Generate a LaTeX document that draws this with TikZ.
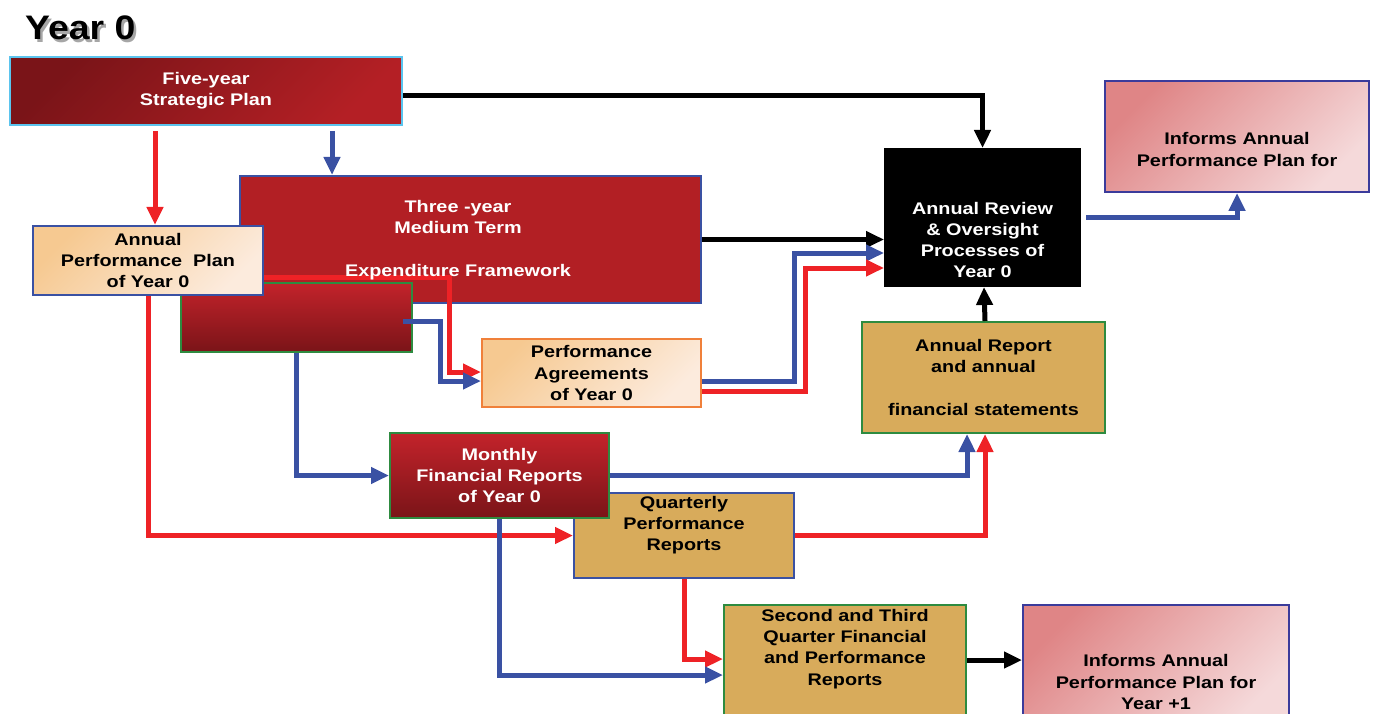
\documentclass[tikz,border=0pt]{standalone}
\usepackage{fontspec}
\setsansfont{Liberation Sans}[FakeStretch=1.18]
\newfontfamily\titlefont{Liberation Sans}[FakeStretch=1.1]
\usetikzlibrary{arrows.meta}

\definecolor{darkred}{HTML}{7A1418}
\definecolor{midred}{HTML}{B21F24}
\definecolor{litered}{HTML}{C3232B}
\definecolor{peachdark}{HTML}{F6C991}
\definecolor{peachlite}{HTML}{FCEBDD}
\definecolor{pinkdark}{HTML}{DF8586}
\definecolor{pinklite}{HTML}{F5D9DA}
\definecolor{tan}{HTML}{D8AB5B}
\definecolor{edgeblue}{HTML}{3A51A3}
\definecolor{edgeviolet}{HTML}{3B3B9B}
\definecolor{edgegreen}{HTML}{2E8B40}
\definecolor{edgeorange}{HTML}{F0803A}
\definecolor{edgecyan}{HTML}{5BC4EE}
\definecolor{linered}{HTML}{EE2226}
\definecolor{lineblue}{HTML}{3A51A3}

\tikzset{
  boxfont/.style={font=\sffamily\bfseries\fontsize{16.8}{21.3}\selectfont},
  box/.style={rectangle, draw, line width=2pt, inner sep=0pt, align=center, boxfont},
  redbox/.style={box, text=white, top color=litered, bottom color=darkred},
  peachbox/.style={box, top color=peachdark, bottom color=peachlite, shading angle=45},
  pinkbox/.style={box, draw=edgeviolet, top color=pinkdark, bottom color=pinklite, shading angle=45},
  tanbox/.style={box, fill=tan},
  whitetext/.style={align=center, inner sep=0pt, text=white, boxfont},
  blacktext/.style={align=center, inner sep=0pt, text=black, boxfont},
  flow/.style={line width=5pt, -{Triangle[length=18pt,width=16pt]}},
  redflow/.style={flow, draw=linered, -{Triangle[length=18pt,width=16pt,fill=linered]}},
  blueflow/.style={flow, draw=lineblue, -{Triangle[length=18pt,width=16pt,fill=lineblue]}},
  blackflow/.style={flow, draw=black}
}

\begin{document}
\begin{tikzpicture}[x=1pt,y=-1pt]
	\clip (0,0) rectangle (1376,714);
	\useasboundingbox (0,0) rectangle (1376,714);

	% title
	\node (titleshadow) [anchor=base west, inner sep=0pt, text=black!35] at (27.5,42.5) {\titlefont\bfseries\fontsize{34}{34}\selectfont Year 0};
	\node (title) [anchor=base west, inner sep=0pt] at (25,40) {\titlefont\bfseries\fontsize{34}{34}\selectfont Year 0};

	% boxes
	\node (fiveyear) [box, draw=edgecyan, text=white, top color=darkred, bottom color=midred!90!litered, shading angle=45,
		minimum width=392, minimum height=68] at (206,91) {Five-year\\Strategic Plan};
	\node (mtef) [box, draw=edgeblue, fill=midred, minimum width=461, minimum height=127] at (470.5,239.5) {};
	\node (budget) [redbox, draw=edgegreen, minimum width=231, minimum height=69] at (296.5,317.5) {};
	\node (app) [peachbox, draw=edgeblue, minimum width=230, minimum height=69] at (148,260.5) {Annual\\Performance~ Plan\\of Year 0};
	\node (perfagr) [peachbox, draw=edgeorange, minimum width=219, minimum height=68] at (591.5,373) {Performance\\Agreements\\of Year 0};
	\node (quarterly) [tanbox, draw=edgeblue, minimum width=220, minimum height=85] at (684,535.5) {};
	\node (quartertext) [blacktext] at (684,525) {Quarterly\\Performance\\Reports};
	\node (monthly) [redbox, draw=edgegreen, minimum width=219, minimum height=85] at (499.5,475.5) {Monthly\\Financial Reports\\of Year 0};
	\node (secondthird) [tanbox, draw=edgegreen, minimum width=242, minimum height=120] at (845,665) {};
	\node (secondtext) [blacktext] at (845,649) {Second and Third\\Quarter Financial\\and Performance\\Reports};
	\node (informsnext) [pinkbox, minimum width=266, minimum height=120] at (1156,665) {};
	\node (nexttext) [blacktext] at (1156,682) {Informs Annual\\Performance Plan for\\Year +1};
	\node (review) [box, fill=black, draw=black, minimum width=195, minimum height=137] at (982.5,217.5) {};
	\node (reviewtext) [whitetext] at (982.5,240) {Annual Review\\\& Oversight\\Processes of\\Year 0};
	\node (informs) [pinkbox, minimum width=264, minimum height=111] at (1237,136.5) {};
	\node (informstext) [blacktext] at (1237,149.5) {Informs Annual\\Performance Plan for};
	\node (annrep) [tanbox, draw=edgegreen, minimum width=243, minimum height=111] at (983.5,377.5) {Annual Report\\and annual\\[21.3pt]financial statements};

	% connectors
	\draw [blackflow] ([yshift=-5pt]fiveyear.east) -| (review.north);
	\draw [redflow, shorten >=5pt] ([xshift=-51pt,yshift=-5pt]fiveyear.south) -- ([xshift=-51pt,yshift=-5pt]fiveyear.south |- app.north);
	\draw [blueflow] ([xshift=126pt,yshift=-5pt]fiveyear.south) -- ([xshift=126pt]fiveyear.south |- mtef.north);
	\draw [blackflow] (mtef.east) -- (mtef.east -| review.west);
	\draw [blueflow] ([yshift=-8pt]perfagr.east) -| ([xshift=-90pt,yshift=-35.5pt]review.west) -- ([yshift=-35.5pt]review.west);
	\draw [redflow] ([yshift=-18pt]perfagr.east) -| ([xshift=-79pt,yshift=-50.5pt]review.west) -- ([yshift=-50.5pt]review.west);
	\draw [redflow] ([yshift=-16.5pt]app.east) -| ([xshift=-32pt,yshift=1pt]perfagr.west) -- ([yshift=1pt]perfagr.west);
	\draw [blueflow] ([xshift=-10pt,yshift=-3.5pt]budget.east) -| ([xshift=-41pt,yshift=-8pt]perfagr.west) -- ([yshift=-8pt]perfagr.west);
	\draw [blueflow] (budget.south) |- (monthly.west);
	\draw [redflow] (app.south) |- (quarterly.west);
	\draw [blueflow] (monthly.east) -| ([xshift=-16.5pt]annrep.south);
	\draw [redflow] (quarterly.east) -| ([xshift=1.5pt]annrep.south);
	\draw [blackflow] ([xshift=1.5pt]annrep.north) -- ([xshift=1.5pt]review.south);
	\draw [blueflow] ([xshift=5pt]review.east) -| (informs.south);
	\draw [redflow] (quarterly.south) |- ([yshift=6pt]secondthird.west);
	\draw [blueflow] (monthly.south) |- ([yshift=-10pt]secondthird.west);
	\draw [blackflow] ([yshift=5pt]secondthird.east) -- ([yshift=5pt]informsnext.west);

	% framework text sits over the red line
	\node (mteftext) [whitetext] at (458,240) {Three -year\\Medium Term\\[21.3pt]Expenditure Framework};
\end{tikzpicture}
\end{document}
